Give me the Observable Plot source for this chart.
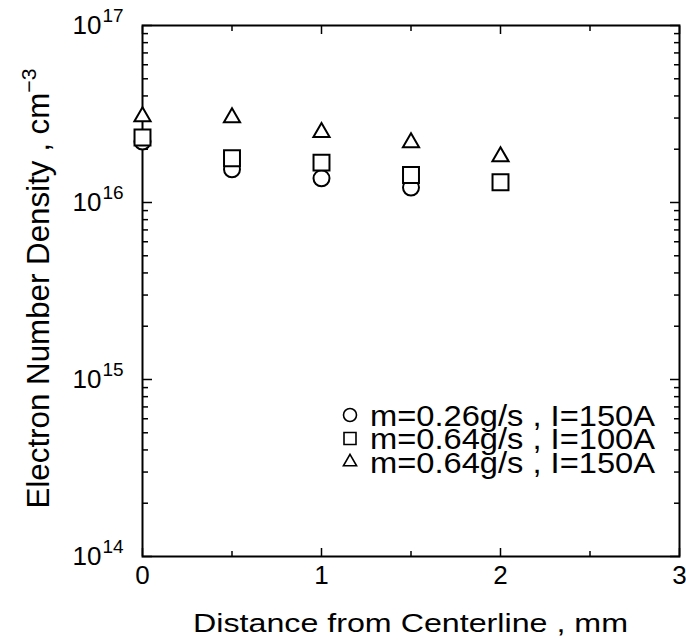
<!DOCTYPE html>
<html><head><meta charset="utf-8">
<script src="https://cdn.jsdelivr.net/npm/d3@7"></script>
<script src="https://cdn.jsdelivr.net/npm/@observablehq/plot@0.6"></script>
<style>
body{margin:0;background:#fff;}
#chart{width:686px;height:643px;}
</style></head><body><div id="chart"></div>
<script>
// Data
const distance = [0, 0.5, 1, 1.5, 2];
const densityCircle = [2.21e16, 1.54e16, 1.37e16, 1.215e16];          // m=0.26g/s , I=150A
const densitySquare = [2.33e16, 1.78e16, 1.68e16, 1.43e16, 1.30e16];  // m=0.64g/s , I=100A
const densityTriangle = [3.06e16, 3.02e16, 2.49e16, 2.18e16, 1.82e16]; // m=0.64g/s , I=150A
const seriesLabels = ["m=0.26g/s , I=150A", "m=0.64g/s , I=100A", "m=0.64g/s , I=150A"];
const seriesSymbols = ["circle", "square", "triangle"];
const xMajorTicks = [0, 1, 2, 3];
const xMinorTicks = [0.5, 1.5, 2.5];
const yMajorTicks = [1e14, 1e15, 1e16, 1e17];
const yMinorMultipliers = [2, 3, 4, 5, 6, 7, 8, 9];
const yMinorTicks = [1e14, 1e15, 1e16].flatMap(d => yMinorMultipliers.map(m => m * d));
const xTitle = "Distance from Centerline , mm";
const yTitle = "Electron Number Density , cm";
const yTitleSup = "\u22123";

const toRows = ys => ys.map((y, i) => ({x: distance[i], y}));
const font = "'Liberation Sans', Arial, Helvetica, sans-serif";
const noText = () => "";

const chart = Plot.plot({
  width: 686, height: 643,
  marginLeft: 142, marginRight: 7, marginTop: 25, marginBottom: 87,
  style: {fontFamily: font, background: "white", color: "black", overflow: "visible"},
  x: {domain: [0, 3]},
  y: {type: "log", domain: [1e14, 1e17]},
  marks: [
    Plot.axisX(xMajorTicks, {anchor: "bottom", tickSize: -8, strokeWidth: 1.5, tickFormat: noText, label: null}),
    Plot.axisX(xMinorTicks, {anchor: "bottom", tickSize: -5, strokeWidth: 1.5, tickFormat: noText, label: null}),
    Plot.axisX(xMajorTicks, {anchor: "top", tickSize: -8, strokeWidth: 1.5, tickFormat: noText, label: null}),
    Plot.axisX(xMinorTicks, {anchor: "top", tickSize: -5, strokeWidth: 1.5, tickFormat: noText, label: null}),
    Plot.axisY(yMajorTicks, {anchor: "left", tickSize: -10, strokeWidth: 1.5, tickFormat: noText, label: null}),
    Plot.axisY(yMinorTicks, {anchor: "left", tickSize: -6, strokeWidth: 1.5, tickFormat: noText, label: null}),
    Plot.axisY(yMajorTicks, {anchor: "right", tickSize: -10, strokeWidth: 1.5, tickFormat: noText, label: null}),
    Plot.axisY(yMinorTicks, {anchor: "right", tickSize: -6, strokeWidth: 1.5, tickFormat: noText, label: null}),
    Plot.frame({stroke: "black", strokeWidth: 2}),
    Plot.text(xMajorTicks, {x: d => d, text: d => String(d), frameAnchor: "bottom", dy: 19, lineAnchor: "middle", fontSize: 26, fill: "black"}),
    Plot.text(yMajorTicks, {y: d => d, text: () => "10", frameAnchor: "left", dx: -41, textAnchor: "end", lineAnchor: "middle", fontSize: 26, fill: "black"}),
    Plot.text(yMajorTicks, {y: d => d, text: d => String(Math.round(Math.log10(d))), frameAnchor: "left", dx: -40, dy: -10, textAnchor: "start", lineAnchor: "middle", fontSize: 19, fill: "black"}),
    Plot.dot(toRows(densityCircle), {x: "x", y: "y", symbol: "circle", r: 8, stroke: "black", strokeWidth: 2, fill: "white"}),
    Plot.dot(toRows(densitySquare), {x: "x", y: "y", symbol: "square", r: 9, stroke: "black", strokeWidth: 2, fill: "white"}),
    Plot.dot(toRows(densityTriangle), {x: "x", y: "y", symbol: "triangle", r: 6, stroke: "black", strokeWidth: 2, fill: "white"})
  ]
});
document.getElementById("chart").appendChild(chart);

const svg = d3.select(chart);
const xr = chart.scale("x").range, yr = chart.scale("y").range;
const cx = (xr[0] + xr[1]) / 2, cy = (yr[0] + yr[1]) / 2;

// x title
svg.append("text").attr("x", cx).attr("y", 632).attr("text-anchor", "middle")
  .attr("font-family", font).attr("font-size", 26).attr("fill", "black")
  .attr("textLength", 435).attr("lengthAdjust", "spacingAndGlyphs").text(xTitle);

// y title
const yt = svg.append("text").attr("transform", `translate(49,${cy - 2}) rotate(-90)`)
  .attr("text-anchor", "middle").attr("font-family", font).attr("font-size", 31).attr("fill", "black")
  .attr("textLength", 440).attr("lengthAdjust", "spacingAndGlyphs");
yt.append("tspan").text(yTitle);
yt.append("tspan").attr("font-size", 21).attr("dy", -13).text(yTitleSup);

// legend
const leg = svg.append("g").attr("font-family", font);
const symMap = {circle: d3.symbolCircle, square: d3.symbolSquare, triangle: d3.symbolTriangle};
const symSize = {circle: Math.PI * 6.5 * 6.5, square: 144, triangle: 75};
seriesLabels.forEach((lab, i) => {
  const yy = 415 + i * 23.5;
  leg.append("path").attr("transform", `translate(350,${yy})`)
    .attr("d", d3.symbol(symMap[seriesSymbols[i]], symSize[seriesSymbols[i]])())
    .attr("fill", "none").attr("stroke", "black").attr("stroke-width", 1.6);
  leg.append("text").attr("x", 370).attr("y", yy + 10.5).attr("text-anchor", "start")
    .attr("font-size", 29).attr("fill", "black")
    .attr("textLength", 285).attr("lengthAdjust", "spacingAndGlyphs").text(lab);
});
</script>
</body></html>
